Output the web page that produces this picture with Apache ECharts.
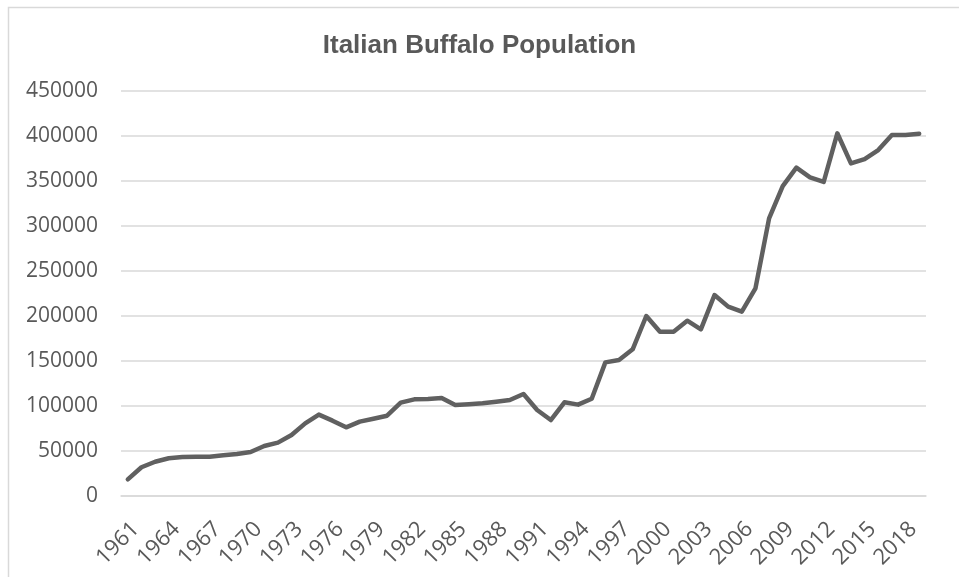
<!DOCTYPE html>
<html>
<head>
<meta charset="utf-8">
<script src="https://cdn.jsdelivr.net/npm/echarts@6/dist/echarts.min.js"></script>
<style>
html,body{margin:0;padding:0;background:#fff;}
#chart{width:959px;height:577px;}
</style>
</head>
<body>
<div id="chart"></div>
<script>
const years = [];
for (let y = 1961; y <= 2019; y++) years.push(String(y));
const population = [
  18500, 31900, 38100, 41900, 43300, 43700, 43700, 45200, 46700, 48900,
  55600, 59300, 67800, 80700, 90400, 83700, 76300, 82600, 85900, 89200,
  103700, 107400, 107800, 108900, 101100, 101900, 103000, 104800, 106700, 113300,
  95600, 84400, 104100, 101500, 108100, 148500, 151100, 163000, 200000, 182600,
  182600, 194800, 185200, 223300, 210400, 204800, 230700, 308500, 344400, 364800,
  354100, 348900, 403000, 369600, 374400, 384400, 401100, 401100, 402600
];
const titleText = 'Italian Buffalo Population';

const chart = echarts.init(document.getElementById('chart'));
chart.setOption({
  animation: false,
  backgroundColor: '#ffffff',
  graphic: [{
    type: 'rect',
    shape: { x: 8.5, y: 7.5, width: 1000, height: 1000 },
    style: { fill: 'none', stroke: '#d9d9d9', lineWidth: 1.5 },
    silent: true
  }],
  title: {
    text: titleText,
    left: 'center',
    top: 28,
    textStyle: {
      fontFamily: 'Liberation Sans',
      fontWeight: 'bold',
      fontSize: 26,
      color: '#595959'
    }
  },
  grid: { left: 121, right: 33, top: 91, bottom: 81 },
  xAxis: {
    type: 'category',
    data: years,
    boundaryGap: true,
    axisLine: { show: true, lineStyle: { color: '#d9d9d9', width: 1.5 } },
    axisTick: { show: false },
    axisLabel: {
      interval: 2,
      rotate: 45,
      margin: 22,
      align: 'right',
      verticalAlign: 'top',
      fontFamily: 'Open Sans',
      fontSize: 22,
      color: '#595959'
    }
  },
  yAxis: {
    type: 'value',
    min: 0,
    max: 450000,
    interval: 50000,
    axisLine: { show: false },
    axisTick: { show: false },
    splitLine: { lineStyle: { color: '#d9d9d9', width: 1.5 } },
    axisLabel: {
      margin: 23,
      formatter: function (v) { return String(v); },
      fontFamily: 'Open Sans',
      fontSize: 21,
      color: '#595959'
    }
  },
  series: [{
    type: 'line',
    data: population,
    symbol: 'none',
    smooth: false,
    lineStyle: { color: '#606060', width: 4.5, cap: 'round', join: 'round' }
  }]
});
</script>
</body>
</html>
